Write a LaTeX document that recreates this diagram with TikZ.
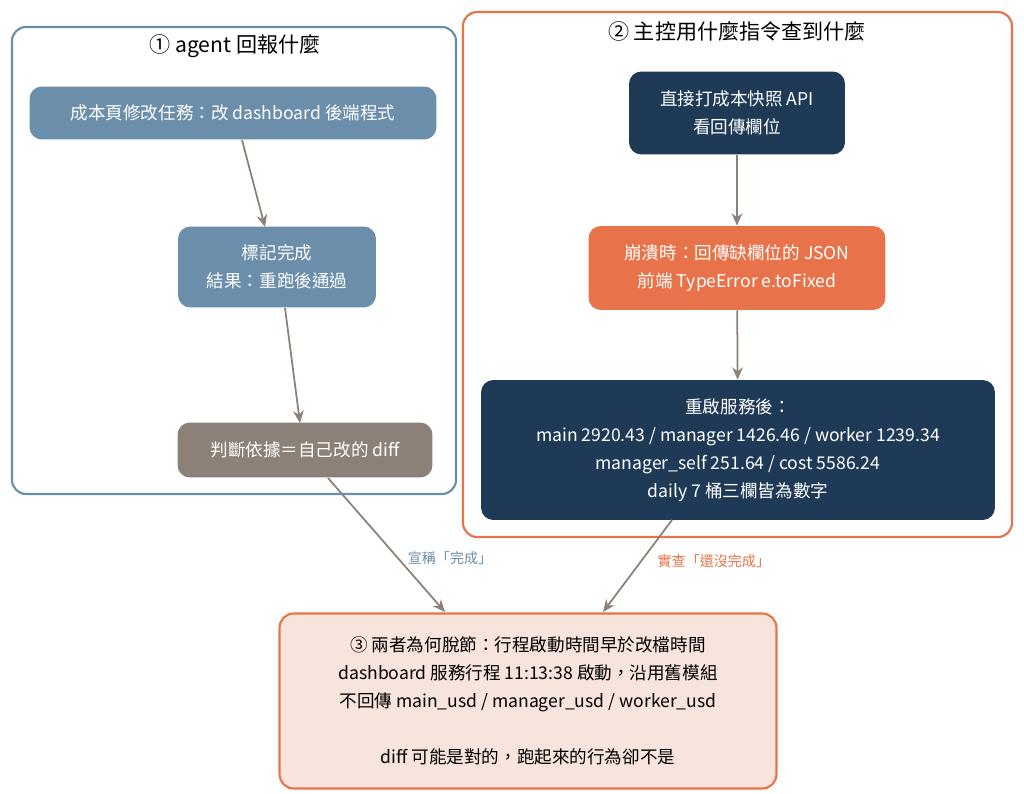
\documentclass[tikz,border=0pt]{standalone}
\usepackage{fontspec}
\setmainfont{Noto Sans CJK TC}
\usetikzlibrary{arrows.meta}
\definecolor{steel}{HTML}{6B8FAB}
\definecolor{navy}{HTML}{1F3A57}
\definecolor{rust}{HTML}{E8734A}
\definecolor{taupe}{HTML}{8B8178}
\definecolor{blush}{HTML}{F7E4DC}
\tikzset{
	cluster/.style  = {draw, line width=1.2pt, rounded corners=8pt, fill=white},
	stage/.style    = {rounded corners=7pt, text=white, align=center,
		font=\fontsize{10}{16}\selectfont},
	verdict/.style  = {draw=rust, line width=1.2pt, rounded corners=8pt, fill=blush,
		align=center, font=\fontsize{10}{16}\selectfont},
	flow/.style     = {draw=taupe, line width=1pt, -{Stealth[length=7pt,width=6pt]}},
	tag/.style      = {font=\fontsize{8}{10}\selectfont, fill=white, inner sep=1pt}
}

\begin{document}
\begin{tikzpicture}[x=0.02cm, y=-0.02cm]
\useasboundingbox (0,0) rectangle (1024,794);
% the two clusters
\draw[cluster, draw=steel] (12,27) rectangle (456,494);
\draw[cluster, draw=rust] (463,12) rectangle (1012,537);
\node[font=\fontsize{12}{14}\selectfont] (t1) at (235,46) {① agent 回報什麼};
\node[font=\fontsize{12}{14}\selectfont] (t2) at (737,31) {② 主控用什麼指令查到什麼};

% left column
\node[stage, fill=steel, minimum width=8.14cm, minimum height=1.06cm] (task) at (233,113) {成本頁修改任務：改 dashboard 後端程式};
\node[stage, fill=steel, minimum width=3.96cm, minimum height=1.62cm] (done) at (277,267) {標記完成\\結果：重跑後通過};
\node[stage, fill=taupe, minimum width=5.1cm, minimum height=1.1cm] (basis) at (305,450) {判斷依據＝自己改的 diff};

% right column
\node[stage, fill=navy, minimum width=4.32cm, minimum height=1.66cm] (api) at (737,113) {直接打成本快照 API\\看回傳欄位};
\node[stage, fill=rust, minimum width=5.94cm, minimum height=1.68cm] (crash) at (737,268) {崩潰時：回傳缺欄位的 JSON\\前端 TypeError e.toFixed};
\node[stage, fill=navy, minimum width=10.28cm, minimum height=2.8cm] (restart) at (738,450) {重啟服務後：\\main 2920.43 / manager 1426.46 / worker 1239.34\\manager\_self 251.64 / cost 5586.24\\daily 7 桶三欄皆為數字};

% bottom
\node[verdict, minimum width=9.94cm, minimum height=3.5cm] (why) at (528,701) {③ 兩者為何脫節：行程啟動時間早於改檔時間\\dashboard 服務行程 11:13:38 啟動，沿用舊模組\\不回傳 main\_usd / manager\_usd / worker\_usd\\[16pt]diff 可能是對的，跑起來的行為卻不是};

\draw[flow] (242,140) -- (265,227);
\draw[flow] (285,308) -- (300,423);
\draw[flow] (api) -- (crash);
\draw[flow] (crash) -- (restart);
\draw[flow] (328,478) -- node[tag, text=steel, pos=0.6, right=4pt] {宣稱「完成」} (445,612);
\draw[flow] (672,520) -- node[tag, text=rust, pos=0.45, right=8pt] {實查「還沒完成」} (603,612);
\end{tikzpicture}
\end{document}
